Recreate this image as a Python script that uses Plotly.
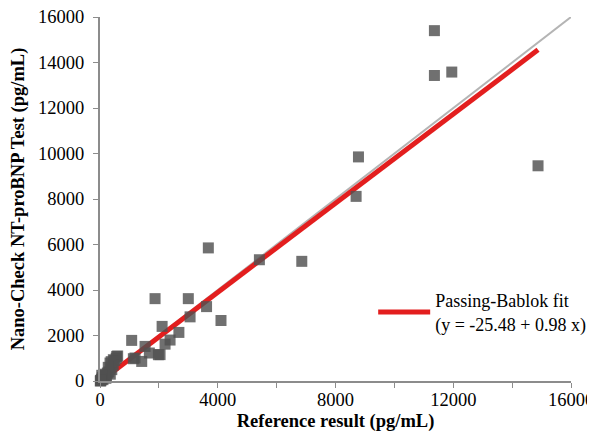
import plotly.graph_objects as go

# Measured data (pg/mL)
ref_x = [11360, 11360, 11950, 14880, 8780, 8700, 5415, 6855, 3680,
         1870, 3000, 3620, 3060, 4110, 2110, 2680, 2380, 2210, 2040,
         1076, 1530, 1983, 1676, 1190, 1417, 1133, 566, 453, 340,
         600, 550, 500, 450, 400, 380, 350, 300, 280, 250, 220, 200,
         180, 150, 120, 100, 80, 60, 50, 30, 20, 10]
test_y = [15400, 13430, 13580, 9460, 9850, 8115, 5330, 5260, 5850,
          3620, 3620, 3270, 2820, 2660, 2400, 2136, 1800, 1620, 1160,
          1785, 1520, 1156, 1230, 1010, 860, 980, 1080, 936, 790,
          1100, 1000, 900, 700, 500, 850, 300, 400, 600, 350, 180, 120,
          250, 200, 300, 60, 150, 250, 80, 10, 30, 0]

fit_intercept = -25.48
fit_slope = 0.98
fit_x = [0, 14880]
fit_y = [fit_intercept + fit_slope * v for v in fit_x]
ident = [0, 16000]

x_ticks = [0, 4000, 8000, 12000, 16000]
x_labels = ["0", "4000", "8000", "12000", "16000"]
y_ticks = [0, 2000, 4000, 6000, 8000, 10000, 12000, 14000, 16000]
y_labels = ["0", "2000", "4000", "6000", "8000", "10000", "12000", "14000", "16000"]

serif = "Liberation Serif"

fig = go.Figure()
fig.add_trace(go.Scatter(x=ident, y=ident, mode="lines",
                         line=dict(color="#b4b4b4", width=2),
                         showlegend=False, hoverinfo="skip"))
fig.add_trace(go.Scatter(x=fit_x, y=fit_y, mode="lines",
                         line=dict(color="#e31e1e", width=5),
                         cliponaxis=False,
                         name="Passing-Bablok fit<br>(y = -25.48 + 0.98 x)"))
fig.add_trace(go.Scatter(x=ref_x, y=test_y, mode="markers",
                         cliponaxis=False,
                         marker=dict(symbol="square", size=11,
                                     color="rgba(80,80,80,0.82)",
                                     line=dict(width=0)),
                         showlegend=False))

fig.update_layout(
    width=600, height=433,
    margin=dict(l=92, r=37, t=9, b=60),
    paper_bgcolor="white", plot_bgcolor="white",
    font=dict(family=serif, size=18, color="black"),
    legend=dict(x=0.58, y=0.272, xanchor="left", yanchor="top",
                bgcolor="rgba(0,0,0,0)", font=dict(family=serif, size=18),
                itemwidth=52),
    xaxis=dict(range=[0, 16000], tickvals=x_ticks, ticktext=x_labels,
               ticks="outside", automargin=False, ticklabelstandoff=-4,
               ticklabeloverflow="allow",
               ticklen=5, tickcolor="#8c8c8c", showline=True,
               linecolor="#8c8c8c", linewidth=2, showgrid=False,
               zeroline=False, tickfont=dict(family=serif, size=18.5),
               minor=dict(ticks="outside", dtick=2000, ticklen=5,
                          tickcolor="#8c8c8c"),
               title=dict(text="<b>Reference result (pg/mL)</b>",
                          standoff=5, font=dict(family=serif, size=18.5))),
    yaxis=dict(range=[0, 16000], tickvals=y_ticks, ticktext=y_labels,
               ticks="outside", ticklabelstandoff=5, automargin=False,
               ticklabeloverflow="allow",
               ticklen=5, tickcolor="#8c8c8c", showline=True,
               linecolor="#8c8c8c", linewidth=2, showgrid=False,
               zeroline=False, tickfont=dict(family=serif, size=18.5),
               title=dict(text="<b>Nano-Check NT-proBNP Test (pg/mL)</b>",
                          standoff=13, font=dict(family=serif, size=18.5))),
)

fig.write_html("out.html")
